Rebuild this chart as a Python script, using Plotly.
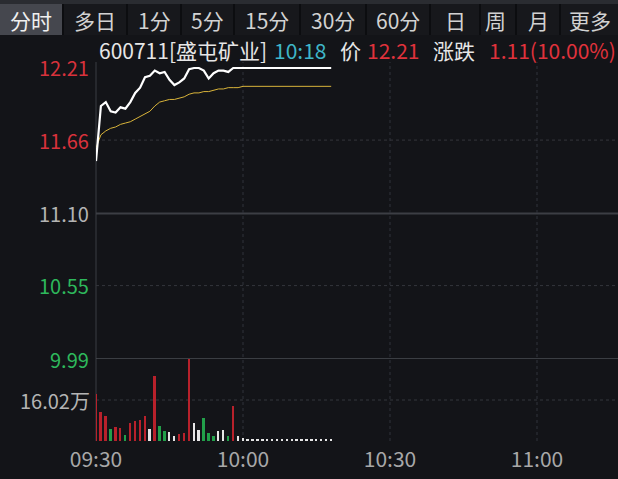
import plotly.graph_objects as go

# ---------------- data ----------------
minutes = list(range(49))  # minutes since 09:30
price = [11.50, 11.92, 11.95, 11.88, 11.87, 11.91, 11.90, 11.95, 12.02, 12.06,
         12.14, 12.15, 12.19, 12.17, 12.18, 12.12, 12.08, 12.10, 12.13, 12.20,
         12.21, 12.21, 12.19, 12.13, 12.17, 12.19, 12.19, 12.18, 12.21, 12.21,
         12.21, 12.21, 12.21, 12.21, 12.21, 12.21, 12.21, 12.21, 12.21, 12.21,
         12.21, 12.21, 12.21, 12.21, 12.21, 12.21, 12.21, 12.21, 12.21]
avg_price = [11.60, 11.70, 11.73, 11.75, 11.76, 11.78, 11.79, 11.80, 11.82, 11.84,
             11.86, 11.88, 11.92, 11.95, 11.96, 11.97, 11.97, 11.98, 11.99, 12.01,
             12.02, 12.02, 12.03, 12.03, 12.04, 12.05, 12.05, 12.06, 12.06, 12.06,
             12.07, 12.07, 12.07, 12.07, 12.07, 12.07, 12.07, 12.07, 12.07, 12.07,
             12.07, 12.07, 12.07, 12.07, 12.07, 12.07, 12.07, 12.07, 12.07]
volume = [18.2, 11.2, 9.7, 4.5, 5.3, 4.9, 2.2, 6.9, 7.8, 8.4,
          9.7, 4.5, 25.3, 5.7, 3.9, 3.6, 1.9, 2.6, 3.3, 32.0,
          6.9, 4.2, 9.0, 3.1, 2.0, 3.8, 4.2, 1.9, 13.7, 1.9,
          1.1, 0.7, 0.8, 0.6, 0.7, 0.8, 0.7, 0.6, 0.7, 0.8,
          0.7, 0.6, 0.7, 0.8, 0.7, 0.6, 0.7, 0.7, 0.6]
vol_dir = ['u', 'u', 'u', 'd', 'u', 'u', 'd', 'u', 'u', 'u',
           'u', 'n', 'u', 'd', 'd', 'n', 'n', 'u', 'u', 'u',
           'n', 'n', 'd', 'd', 'd', 'n', 'n', 'd', 'u', 'n',
           'n', 'n', 'n', 'n', 'n', 'n', 'n', 'n', 'n', 'n',
           'n', 'n', 'n', 'n', 'n', 'n', 'n', 'n', 'n']
price_ticks = [12.21, 11.66, 11.10, 10.55, 9.99]
price_tick_colors = ['#d8323c', '#d8323c', '#b4b4b4', '#2eb85c', '#2eb85c']
vol_tick = 16.02
vol_tick_label = '16.02万'
time_tickvals = [0, 30, 60, 90]
time_ticktext = ['09:30', '10:00', '10:30', '11:00']
tabs = ['分时', '多日', '1分', '5分', '15分', '30分', '60分', '日', '周', '月', '更多']
tab_centers_px = [31, 95, 154, 207, 267, 333, 398, 455, 495, 538, 590]
tab_edges_px = [0, 63, 127, 181, 234, 300, 366, 430, 480, 516, 560, 618]

# ---------------- layout helpers ----------------
W, H = 618, 479
L, R, T, B = 96, 0, 62, 38
PW, PH = W - L - R, H - T - B
def px_x(px):
    return (px - L) / PW
def px_y(py):
    return (H - B - py) / PH

vol_top_frac = px_y(359)
BG = '#131418'
FONT = 'Noto Sans CJK SC, Noto Sans, sans-serif'
dir_color = {'u': '#b8212b', 'd': '#22a04a', 'n': '#e6e6e6'}

fig = go.Figure()
fig.add_trace(go.Scatter(x=minutes, y=avg_price, mode='lines',
                         line=dict(color='#d9b43a', width=1), yaxis='y', hoverinfo='skip'))
fig.add_trace(go.Scatter(x=minutes, y=price, mode='lines',
                         line=dict(color='#ffffff', width=2.2), yaxis='y', hoverinfo='skip'))
fig.add_trace(go.Bar(x=minutes, y=volume, width=0.4,
                     marker=dict(color=[dir_color[d] for d in vol_dir], line=dict(width=0)),
                     yaxis='y2', hoverinfo='skip'))

top_price = 12.21 + 6 / 131.3
fig.update_layout(
    width=W, height=H, margin=dict(l=L, r=R, t=T, b=B),
    paper_bgcolor=BG, plot_bgcolor=BG, showlegend=False, bargap=0,
    xaxis=dict(range=[0, PW / 4.9], showgrid=False, zeroline=False, showline=False,
               anchor='y2', tickvals=time_tickvals, ticktext=time_ticktext, ticks='',
               ticklabelstandoff=4,
               tickfont=dict(family=FONT, size=21, color='#a8a8a8')),
    yaxis=dict(domain=[vol_top_frac, 1], range=[9.99, top_price], showgrid=False,
               zeroline=False, showticklabels=False, showline=False),
    yaxis2=dict(domain=[0, vol_top_frac], range=[0, 32.04], showgrid=False,
                zeroline=False, showticklabels=False, showline=False),
)

shapes = []
# top strip and tab bar
shapes.append(dict(type='rect', xref='paper', yref='paper', x0=px_x(0), x1=px_x(W),
                   y0=px_y(4), y1=px_y(0), fillcolor='#2a2c31', line=dict(width=0), layer='below'))
shapes.append(dict(type='rect', xref='paper', yref='paper', x0=px_x(0), x1=px_x(W),
                   y0=px_y(35), y1=px_y(4), fillcolor='#17181c', line=dict(width=0), layer='below'))
shapes.append(dict(type='rect', xref='paper', yref='paper', x0=px_x(0), x1=px_x(63),
                   y0=px_y(35), y1=px_y(4), fillcolor='#45474e', line=dict(width=0), layer='below'))
for e in tab_edges_px[1:-1]:
    shapes.append(dict(type='line', xref='paper', yref='paper', x0=px_x(e), x1=px_x(e),
                       y0=px_y(35), y1=px_y(4), line=dict(color='#0c0d10', width=2), layer='below'))
# plot frame left line
shapes.append(dict(type='line', xref='paper', yref='paper', x0=0, x1=0, y0=0, y1=1,
                   line=dict(color='#3a3c42', width=1), layer='below'))
# horizontal lines
shapes.append(dict(type='line', xref='paper', yref='y', x0=0, x1=1, y0=11.10, y1=11.10,
                   line=dict(color='#3c3e44', width=2), layer='below'))
shapes.append(dict(type='line', xref='paper', yref='y', x0=0, x1=1, y0=9.99, y1=9.99,
                   line=dict(color='#4a4c52', width=1.5), layer='below'))
for v in [11.66, 10.55]:
    shapes.append(dict(type='line', xref='paper', yref='y', x0=0, x1=1, y0=v, y1=v,
                       line=dict(color='#34363c', width=1, dash='dot'), layer='below'))
shapes.append(dict(type='line', xref='paper', yref='y2', x0=0, x1=1, y0=vol_tick, y1=vol_tick,
                   line=dict(color='#34363c', width=1, dash='dot'), layer='below'))
for t in time_tickvals[1:]:
    shapes.append(dict(type='line', xref='x', yref='paper', x0=t, x1=t, y0=0, y1=1,
                       line=dict(color='#30323a', width=1, dash='dot'), layer='below'))
fig.update_layout(shapes=shapes)

ann = []
for v, c in zip(price_ticks, price_tick_colors):
    ann.append(dict(x=0, xref='paper', y=v, yref='y', text=f'{v:.2f}', showarrow=False,
                    xanchor='right', yanchor='middle', xshift=-5,
                    font=dict(family=FONT, size=20, color=c)))
ann.append(dict(x=0, xref='paper', y=vol_tick, yref='y2', text=vol_tick_label, showarrow=False,
                xanchor='right', yanchor='middle', xshift=-4,
                font=dict(family=FONT, size=20, color='#b4b4b4')))
for name, cx in zip(tabs, tab_centers_px):
    ann.append(dict(x=px_x(cx), xref='paper', y=px_y(20), yref='paper', text=name,
                    showarrow=False, xanchor='center', yanchor='middle',
                    font=dict(family=FONT, size=21, color='#f0f0f0' if name == '分时' else '#d2d2d2')))
header = [('600711[盛屯矿业]', 97, '#e6e6e6'), ('10:18', 272, '#3fb6c8'), ('价', 338, '#e6e6e6'),
          ('12.21', 365, '#e0323c'), ('涨跌', 431, '#e6e6e6'), ('1.11(10.00%)', 487, '#e0323c')]
for txt, x0, col in header:
    ann.append(dict(x=px_x(x0), xref='paper', y=px_y(50), yref='paper', text=txt,
                    showarrow=False, xanchor='left', yanchor='middle',
                    font=dict(family=FONT, size=21, color=col)))
fig.update_layout(annotations=ann)

fig.write_html('out.html', config={'displayModeBar': False},
               post_script="document.body.style.margin='0';")
